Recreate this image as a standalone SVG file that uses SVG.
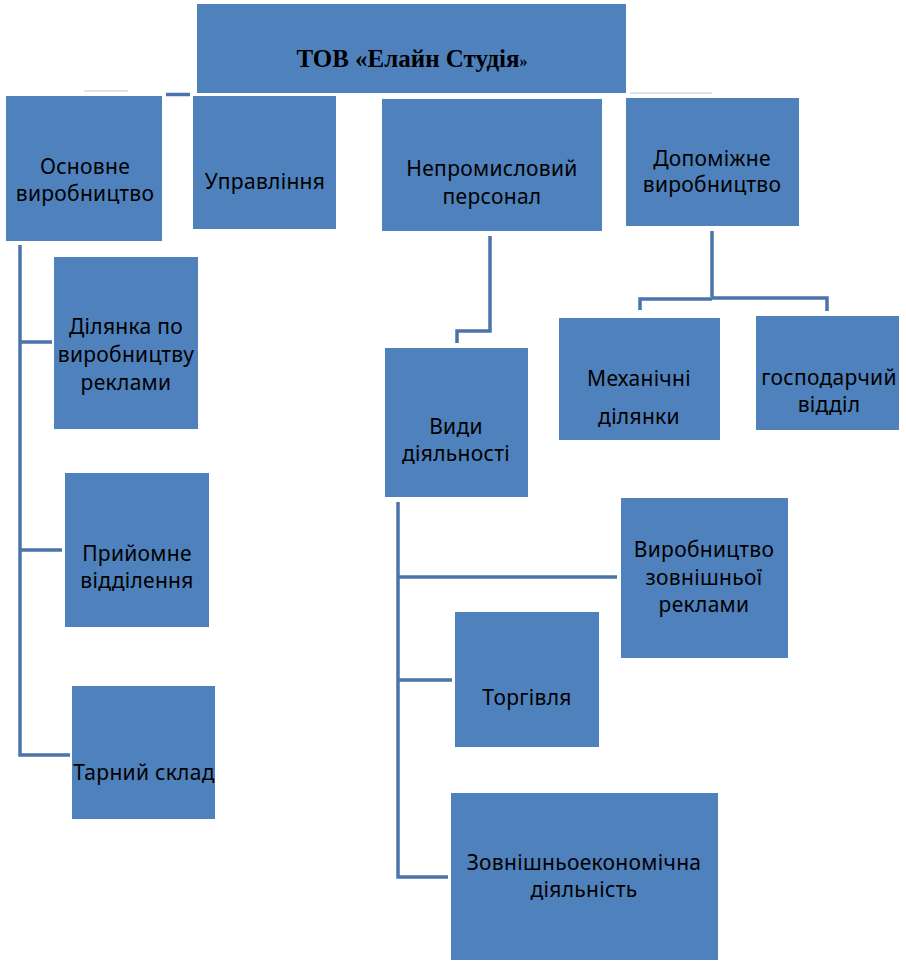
<svg xmlns="http://www.w3.org/2000/svg" width="906" height="964" viewBox="0 0 906 964">
<style>
.box{fill:#4f81bd;}
.t{font-family:"Noto Sans","Open Sans",sans-serif;font-size:21px;letter-spacing:0.3px;fill:#000;text-anchor:middle;}
.ttl{font-family:"Liberation Serif","Times New Roman",serif;font-size:25px;font-weight:bold;fill:#000;text-anchor:middle;}
.c{fill:none;stroke:#4a74ab;stroke-width:3.5;}
.f{fill:none;stroke:#d3dbe6;stroke-width:1.5;}
</style>
<rect width="906" height="964" fill="#fff"/>
<g id="connectors">
<line class="f" x1="84" y1="91" x2="128" y2="91"/>
<line class="f" x1="630" y1="93" x2="712" y2="93"/>
<line class="c" x1="166" y1="94.5" x2="190" y2="94.5"/>
<path class="c" d="M20 245 V755 H70 M20 342 H52 M20 550 H62"/>
<path class="c" d="M490 236 V331 H457 V343"/>
<path class="c" d="M712 231 V297 M640 310 V299 H712 M827 311 V298 H712"/>
<path class="c" d="M398 502 V877 H448 M398 577 H617 M398 680 H452"/>
</g>
<g id="top"><rect class="box" x="197" y="4" width="429" height="89"/><text class="ttl" x="412" y="67">ТОВ «Елайн Студія<tspan font-size="16">»</tspan></text></g>
<g id="osnovne"><rect class="box" x="6" y="96" width="156" height="145"/><text class="t" x="85" y="174">Основне</text><text class="t" x="85" y="201">виробництво</text></g>
<g id="upravlinnya"><rect class="box" x="193" y="96" width="143" height="133"/><text class="t" x="265" y="189">Управління</text></g>
<g id="nepromyslovyi"><rect class="box" x="382" y="99" width="220" height="132"/><text class="t" x="492" y="176">Непромисловий</text><text class="t" x="492" y="204">персонал</text></g>
<g id="dopomizhne"><rect class="box" x="626" y="98" width="173" height="128"/><text class="t" x="712" y="166">Допоміжне</text><text class="t" x="712" y="192">виробництво</text></g>
<g id="dilyanka"><rect class="box" x="54" y="257" width="144" height="172"/><text class="t" x="126" y="334">Ділянка по</text><text class="t" x="126" y="362">виробництву</text><text class="t" x="126" y="390">реклами</text></g>
<g id="pryiomne"><rect class="box" x="65" y="473" width="144" height="154"/><text class="t" x="137" y="561">Прийомне</text><text class="t" x="137" y="588">відділення</text></g>
<g id="tarnyi"><rect class="box" x="72" y="686" width="143" height="133"/><text class="t" x="144" y="780">Тарний склад</text></g>
<g id="vydy"><rect class="box" x="385" y="348" width="143" height="149"/><text class="t" x="456" y="434">Види</text><text class="t" x="456" y="461">діяльності</text></g>
<g id="mekhanichni"><rect class="box" x="559" y="318" width="161" height="122"/><text class="t" x="639" y="386">Механічні</text><text class="t" x="639" y="424">ділянки</text></g>
<g id="hospodarchyi"><rect class="box" x="756" y="316" width="143" height="114"/><text class="t" x="829" y="385">господарчий</text><text class="t" x="829" y="412">відділ</text></g>
<g id="vyrobnytstvo"><rect class="box" x="621" y="498" width="167" height="160"/><text class="t" x="704" y="557">Виробництво</text><text class="t" x="704" y="585">зовнішньої</text><text class="t" x="704" y="612">реклами</text></g>
<g id="torhivlya"><rect class="box" x="455" y="612" width="144" height="135"/><text class="t" x="527" y="705">Торгівля</text></g>
<g id="zovnishnyo"><rect class="box" x="451" y="793" width="267" height="167"/><text class="t" x="584" y="870">Зовнішньоекономічна</text><text class="t" x="584" y="897">діяльність</text></g>
</svg>
